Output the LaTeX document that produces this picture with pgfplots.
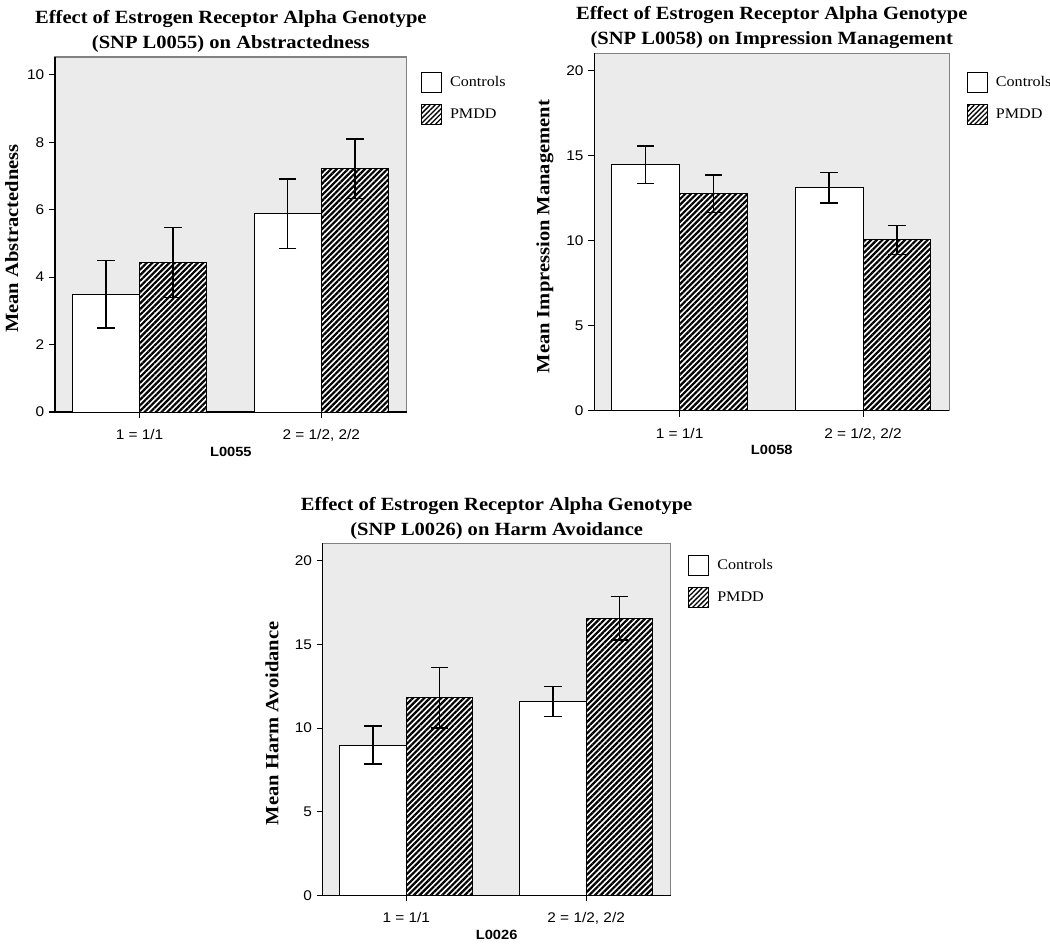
\documentclass[border=0pt]{standalone}
\usepackage{fontspec}
\setmainfont{Liberation Serif}[FakeStretch=1.1]
\setsansfont{Liberation Sans}[FakeStretch=1.1]
\usepackage{pgfplots}
\pgfplotsset{compat=1.18}
\usetikzlibrary{patterns.meta}
\definecolor{bggray}{RGB}{235,235,235}
\definecolor{boxgray}{RGB}{130,130,130}

\pgfplotsset{
  spssbar/.style={
    scale only axis,
    ybar, bar width=0.37,
    xmin=0.535, xmax=2.47, ymin=0,
    axis x line*=bottom, axis y line*=left,
    axis line style={black, line width=1pt},
    axis background/.style={fill=bggray, draw=boxgray, line width=1pt},
    xtick={1,2}, xticklabels={1 = 1/1, {2 = 1/2, 2/2}},
    tick align=outside, major tick length=4.5pt,
    tick style={black, line width=0.8pt},
    /pgf/number format/assume math mode=true,
    ticklabel style={font=\sffamily\fontsize{10.5}{12}\selectfont},
    xticklabel style={yshift=-5pt},
    title style={at={(0.5,1)}, anchor=south, yshift=-3pt, inner sep=0pt, align=center,
      font=\fontsize{14}{18.75}\selectfont\bfseries},
    every axis x label/.style={at={(rel axis cs:0.5,0)}, anchor=base, yshift=-33pt,
      font=\sffamily\bfseries\fontsize{10}{12}\selectfont},
    legend style={at={(1,1)}, anchor=north west, draw=none, fill=none, inner sep=0pt,
      row sep=8.5pt, font=\fontsize{11}{13}\selectfont, legend cell align=left,
      /tikz/every odd column/.append style={column sep=4pt}},
    error bars/y dir=both, error bars/y explicit,
    error bars/error bar style={black, line width=1.1pt},
    error bars/error mark options={black, rotate=90, line width=1.1pt, mark size=6.5pt},
  },
  ctrl/.style={fill=white, draw=black, line width=0.75pt, bar shift=-0.185,
    legend image code/.code={\draw[fill=white,draw=black,line width=0.75pt] (0pt,-7.5pt) rectangle (15pt,7.5pt);}},
  pmdd/.style={preaction={fill=white}, pattern={Lines[angle=45,distance=3pt,line width=1.65pt]}, pattern color=black,
    draw=black, line width=0.75pt, bar shift=0.185,
    legend image code/.code={\draw[preaction={fill=white},pattern={Lines[angle=45,distance=2.6pt,line width=1pt]},pattern color=black,draw=black,line width=0.75pt] (0pt,-7.5pt) rectangle (15pt,7.5pt);}},
}

\begin{document}
\begin{tikzpicture}
\useasboundingbox (0,0) rectangle (787.5pt,-710.25pt);

% Panel 1
\begin{axis}[spssbar,
  at={(41.25pt,-309pt)}, anchor=south west,
  width=263.8pt, height=266.25pt,
  ymax=10.53, ytick={0,2,4,6,8,10},
  title={Effect of Estrogen Receptor Alpha Genotype\\(SNP L0055) on Abstractedness},
  xlabel={L0055}, ylabel={Mean Abstractedness},
  every axis y label/.style={at={(rel axis cs:0,0.5)}, anchor=center, xshift=-32.5pt, yshift=-3pt, rotate=90,
      font=\fontsize{14}{16}\selectfont\bfseries},
  legend style={xshift=10.5pt, yshift=-11pt},
]
\addplot[ctrl] coordinates {(1,3.49) +- (0,1.00) (2,5.88) +- (0,1.03)};
\addlegendentry{Controls}
\addplot[pmdd] coordinates {(1,4.43) +- (0,1.04) (2,7.22) +- (0,0.88)};
\addlegendentry{PMDD}
\end{axis}

% Panel 2
\begin{axis}[spssbar,
  at={(445.7pt,-308pt)}, anchor=south west,
  width=266.25pt, height=268pt,
  ymax=21.02, ytick={0,5,10,15,20},
  title={Effect of Estrogen Receptor Alpha Genotype\\(SNP L0058) on Impression Management},
  xlabel={L0058}, ylabel={Mean Impression Management},
  every axis y label/.style={at={(rel axis cs:0,0.5)}, anchor=center, xshift=-37pt, yshift=-3.5pt, rotate=90,
      font=\fontsize{14}{16}\selectfont\bfseries},
  legend style={xshift=13pt, yshift=-13.5pt},
]
\addplot[ctrl] coordinates {(1,14.47) +- (0,1.10) (2,13.12) +- (0,0.89)};
\addlegendentry{Controls}
\addplot[pmdd] coordinates {(1,12.76) +- (0,1.10) (2,10.04) +- (0,0.84)};
\addlegendentry{PMDD}
\end{axis}

% Panel 3
\begin{axis}[spssbar,
  at={(242pt,-671.5pt)}, anchor=south west,
  width=261pt, height=264pt,
  ymax=21.05, ytick={0,5,10,15,20},
  title={Effect of Estrogen Receptor Alpha Genotype\\(SNP L0026) on Harm Avoidance},
  xlabel={L0026}, ylabel={Mean Harm Avoidance},
  every axis y label/.style={at={(rel axis cs:0,0.5)}, anchor=center, xshift=-38pt, yshift=-3pt, rotate=90,
      font=\fontsize{14}{16}\selectfont\bfseries},
  legend style={xshift=13pt, yshift=-8.5pt},
]
\addplot[ctrl] coordinates {(1,8.99) +- (0,1.14) (2,11.58) +- (0,0.90)};
\addlegendentry{Controls}
\addplot[pmdd] coordinates {(1,11.82) +- (0,1.82) (2,16.57) +- (0,1.30)};
\addlegendentry{PMDD}
\end{axis}
\end{tikzpicture}
\end{document}
